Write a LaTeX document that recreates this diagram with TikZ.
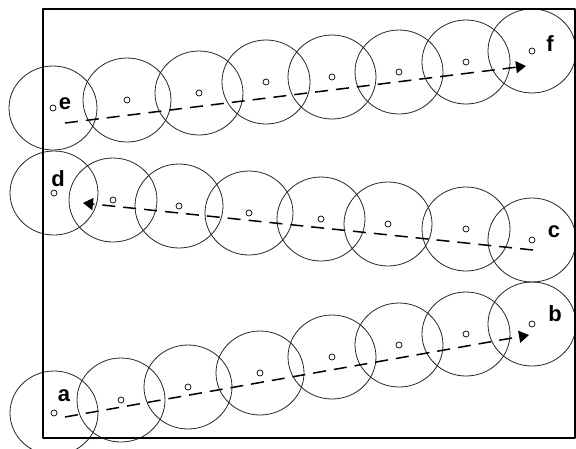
\documentclass[tikz,border=0pt]{standalone}
\usepackage{fontspec}
\setmainfont{Liberation Sans}
\usetikzlibrary{arrows.meta}
\tikzset{
  zone/.style={draw=black!85, line width=0.8pt},
  dot/.style={circle, draw, line width=0.7pt, inner sep=0pt, minimum size=6pt},
  tag/.style={font=\fontsize{22}{26}\selectfont\bfseries, inner sep=0pt},
  track/.style={line width=1.5pt, dash pattern=on 13pt off 8pt, line cap=butt, -{Triangle[length=10pt,width=12pt]}}
}
\begin{document}
\begin{tikzpicture}[x=1pt, y=-1pt, line cap=round, line join=round]
\useasboundingbox (0,0) rectangle (576,448);
% sensing ranges and their centres
\foreach \x/\y/\n in {53/108/e,127/100/e2,199/93/e3,266/82/e4,332/77/e5,399/72/e6,466/62/e7,532/51/f,
                      54/193/d,113/200/d2,179/206/d3,249/213/d4,321/219/d5,388/224/d6,466/229/d7,532/240/c,
                      54/413/a,121/400/a2,188/387/a3,260/373/a4,332/357/a5,399/345/a6,466/334/a7,532/324/b}
  {\draw[zone] (\x,\y) ellipse[x radius=44pt, y radius=42pt];
   \node[dot] (\n) at (\x,\y) {};}
% labels
\node[tag] (la) at (64,396) {a};
\node[tag] (lb) at (555,314) {b};
\node[tag] (lc) at (554,232) {c};
\node[tag] (ld) at (58,179) {d};
\node[tag] (le) at (65,104) {e};
\node[tag] (lf) at (550,44) {f};
% paths
\coordinate (ab0) at (65,417); \coordinate (ab1) at (529,335);
\coordinate (cd0) at (533,250); \coordinate (cd1) at (83,203);
\coordinate (ef0) at (65,123); \coordinate (ef1) at (526,66);
\draw[track] (ab0) -- (ab1);
\draw[track] (cd0) -- (cd1);
\draw[track] (ef0) -- (ef1);
% field
\draw[line width=2pt] (43,9) rectangle (575,438);
\end{tikzpicture}
\end{document}
